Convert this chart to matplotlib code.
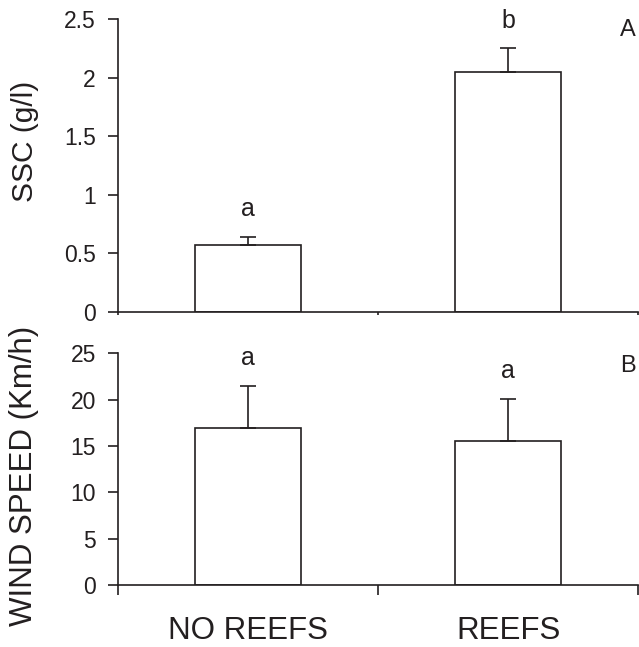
import matplotlib.pyplot as plt
import numpy as np

plt.rcParams['font.family'] = ['Liberation Sans', 'DejaVu Sans']

# data
categories = ['NO REEFS', 'REEFS']
ssc_mean = [0.57, 2.05]
ssc_err = [0.07, 0.20]
ssc_letters = ['a', 'b']
wind_mean = [17.0, 15.5]
wind_err = [4.5, 4.6]
wind_letters = ['a', 'a']

ink = '#231f20'
lw = 1.2

fig = plt.figure(figsize=(6.39, 6.47), dpi=100)
ax_top = fig.add_axes([0.1847, 0.5178, 0.8138, 0.4528])
ax_bot = fig.add_axes([0.1847, 0.0954, 0.8138, 0.3585])

x = np.arange(len(categories)) + 0.5


def draw_panel(ax, means, errs, letters, ylim, yticks, ylabel, label_y, label_size,
               tag, tag_y, xtick_len):
    ax.bar(x, means, width=0.41, color='white', edgecolor=ink, linewidth=lw, zorder=2)
    ax.errorbar(x, means, yerr=[np.zeros(len(errs)), errs], fmt='none',
                ecolor=ink, elinewidth=lw, capsize=6, capthick=lw, zorder=3)
    for xi, m, e, lab in zip(x, means, errs, letters):
        ax.annotate(lab, (xi, m + e), xytext=(0, 20), textcoords='offset points',
                    ha='center', va='center', fontsize=18, color=ink)
    ax.text(0.981, tag_y, tag, transform=ax.transAxes, ha='center', va='center',
            fontsize=17, color=ink)

    ax.set_xlim(0, 2)
    ax.set_ylim(*ylim)
    ax.set_yticks(yticks)
    ax.set_yticklabels([f'{t:g}' for t in yticks])
    ax.set_xticks([0, 1, 2])
    ax.set_xticklabels([])
    ax.tick_params(axis='x', which='major', direction='out', length=xtick_len,
                   width=lw, color=ink)
    ax.tick_params(axis='y', direction='out', length=7, width=lw, color=ink,
                   labelsize=16.5, pad=9, labelcolor=ink)
    for side in ['top', 'right']:
        ax.spines[side].set_visible(False)
    for side in ['left', 'bottom']:
        ax.spines[side].set_linewidth(lw)
        ax.spines[side].set_color(ink)
    ax.set_ylabel(ylabel, fontsize=label_size, color=ink)
    ax.yaxis.set_label_coords(-0.152, label_y)


draw_panel(ax_top, ssc_mean, ssc_err, ssc_letters, (0, 2.5),
           [0, 0.5, 1, 1.5, 2, 2.5], 'SSC (g/l)', 0.584, 21.5, 'A', 0.962, 2)
draw_panel(ax_bot, wind_mean, wind_err, wind_letters, (0, 25),
           [0, 5, 10, 15, 20, 25], 'WIND SPEED (Km/h)', 0.471, 22.5, 'B', 0.945, 7)

ax_bot.set_xticks(x, minor=True)
ax_bot.set_xticklabels(categories, minor=True)
ax_bot.tick_params(axis='x', which='minor', length=0, pad=22, labelsize=22.5,
                   labelcolor=ink)

fig.savefig('out.png', dpi=100)
